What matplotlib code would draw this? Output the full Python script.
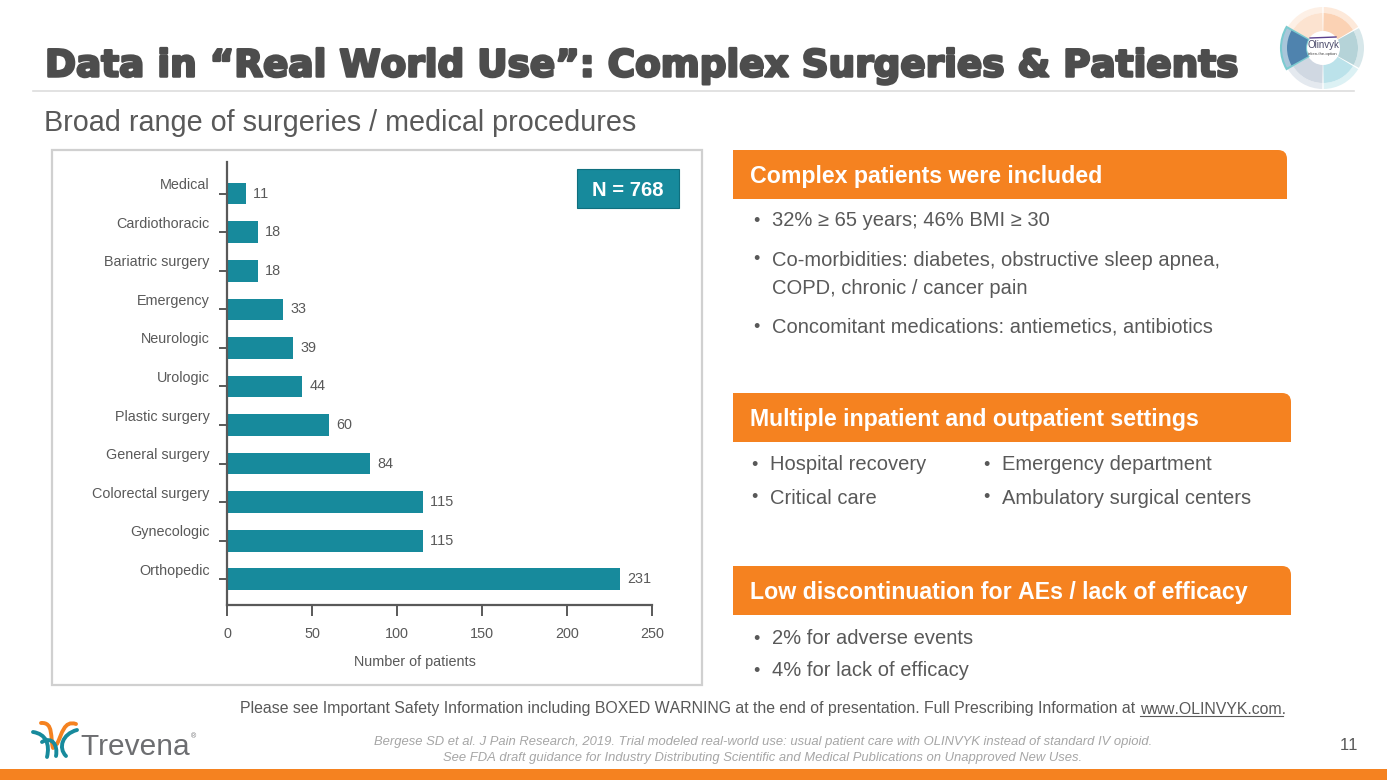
import matplotlib
matplotlib.use('Agg')
import matplotlib.pyplot as plt
import matplotlib.patheffects as pe
from matplotlib.patches import Rectangle, PathPatch, Wedge
from matplotlib.path import Path
from matplotlib.transforms import ScaledTranslation

plt.rcParams['font.family'] = ['Liberation Sans', 'DejaVu Sans']
plt.rcParams['text.kerning_factor'] = 8

# Chart data
categories = ['Orthopedic', 'Gynecologic', 'Colorectal surgery', 'General surgery',
              'Plastic surgery', 'Urologic', 'Neurologic', 'Emergency',
              'Bariatric surgery', 'Cardiothoracic', 'Medical']
patients = [231, 115, 115, 84, 60, 44, 39, 33, 18, 18, 11]
x_ticks = [0, 50, 100, 150, 200, 250]

# Slide text
title = 'Data in “Real World Use”: Complex Surgeries & Patients'
subtitle = 'Broad range of surgeries / medical procedures'
footer = 'Please see Important Safety Information including BOXED WARNING at the end of presentation. Full Prescribing Information at '
link = 'www.OLINVYK.com'
refs = ['Bergese SD et al. J Pain Research, 2019. Trial modeled real-world use: usual patient care with OLINVYK instead of standard IV opioid.',
        'See FDA draft guidance for Industry Distributing Scientific and Medical Publications on Unapproved New Uses.']

W, H = 1387, 780
ORANGE = '#F58220'
TEAL = '#178A9C'
GREY = '#595959'

fig = plt.figure(figsize=(W / 100, H / 100), dpi=100, facecolor='white')

# Background axes in pixel coordinates for the slide furniture
bg = fig.add_axes([0, 0, 1, 1], zorder=0)
bg.set_xlim(0, W)
bg.set_ylim(H, 0)
bg.axis('off')

bg.add_patch(Rectangle((0, 769), W, 11, color=ORANGE, lw=0))
bg.plot([33, 1354], [91, 91], color='#DDDDDD', lw=1.2)
bg.add_patch(Rectangle((52, 150), 650, 535, fc='white', ec='#D0D0D0', lw=1.6))

bg.text(45, 66, title, fontsize=26.9, family='DejaVu Sans', fontweight='bold', color='#4D4D4D',
        va='center', ha='left',
        path_effects=[pe.withStroke(linewidth=1.8, foreground='#4D4D4D')])
bg.text(44, 123, subtitle, fontsize=20.7, color=GREY, va='center')


def header(x0, x1, y0, y1, label):
    r = 9
    verts = [(x0, y1), (x0, y0), (x1 - r, y0), (x1, y0), (x1, y0 + r), (x1, y1), (x0, y1)]
    codes = [Path.MOVETO, Path.LINETO, Path.LINETO, Path.CURVE3, Path.CURVE3, Path.LINETO, Path.CLOSEPOLY]
    bg.add_patch(PathPatch(Path(verts, codes), fc=ORANGE, ec='none'))
    bg.text(x0 + 17, (y0 + y1) / 2 + 2, label, color='white', fontsize=16.7, fontweight='bold', va='center')


def bullet(x, y, label, indent=21):
    bg.text(x + 2.5, y + 1, '•', color=GREY, fontsize=13, va='center')
    bg.text(x + indent, y + 1, label, color=GREY, fontsize=14.5, va='center')


header(733, 1287, 150, 199, 'Complex patients were included')
bullet(751, 220, '32% ≥ 65 years; 46% BMI ≥ 30')
bullet(751, 259, 'Co-morbidities: diabetes, obstructive sleep apnea,')
bg.text(772, 289, 'COPD, chronic / cancer pain', color=GREY, fontsize=14.5, va='center')
bullet(751, 326, 'Concomitant medications: antiemetics, antibiotics')

header(733, 1291, 393, 442, 'Multiple inpatient and outpatient settings')
bullet(749, 464, 'Hospital recovery')
bullet(749, 497, 'Critical care')
bullet(981, 464, 'Emergency department')
bullet(981, 497, 'Ambulatory surgical centers')

header(733, 1291, 566, 615, 'Low discontinuation for AEs / lack of efficacy')
bullet(751, 638, '2% for adverse events')
bullet(751, 670, '4% for lack of efficacy')

# Footer
bg.text(1140, 709, footer, color=GREY, fontsize=11.4, ha='right', va='center')
bg.text(1140, 709, link + '.', color=GREY, fontsize=11.4, ha='left', va='center')
bg.plot([1140, 1283], [716, 716], color=GREY, lw=0.8)
bg.text(763, 742, refs[0], color='#A6A6A6', fontsize=9.4, style='italic', ha='center', va='center')
bg.text(763, 758, refs[1], color='#A6A6A6', fontsize=9.4, style='italic', ha='center', va='center')
bg.text(1349, 745, '11', color=GREY, fontsize=12, ha='center', va='center')

# Olinvyk wheel logo (y axis is flipped, so angles run clockwise)
wheel = [(-90, -30, '#FBD2B4', '#FDE9DA'), (-30, 30, '#B5D3D8', '#D7E7EA'), (30, 90, '#BBE2EA', '#DCF1F4'),
         (90, 150, '#D0D8E2', '#E4E9EF'), (210, 270, '#FCE3D0', '#FDF0E6')]
for a0, a1, inner, outer in wheel:
    bg.add_patch(Wedge((1323, 48), 41, a0 + 1, a1 - 1, width=6, fc=outer, ec='none'))
    bg.add_patch(Wedge((1323, 48), 35, a0 + 1, a1 - 1, width=18, fc=inner, ec='none'))
bg.add_patch(Wedge((1323, 48), 42, 150, 210, width=25, fc='#A9C6DA', ec='#7CCBD0', lw=1.5))
bg.add_patch(Wedge((1323, 48), 36, 151, 209, width=19, fc='#4F83AE', ec='none'))
bg.text(1323, 45, 'Olinvyk', fontsize=7, color='#4A4A6A', ha='center', va='center')
bg.text(1323, 54, 'taken-the-option', fontsize=3, color='#444444', ha='center', va='center')
bg.plot([1310, 1336], [38, 37], color='#5B3F8C', lw=1)

# Trevena logo
bg.text(80, 747, 'Trevena', fontsize=21.5, color='#6D6E71', va='center', ha='left')
bg.text(191, 737, '®', fontsize=5, color='#6D6E71', va='center')
for verts, col in [
    ([(41, 723), (54, 722), (50, 738), (53, 748)], ORANGE),
    ([(76, 724), (64, 720), (62, 734), (57, 744)], ORANGE),
    ([(33, 732), (46, 734), (50, 744), (47, 757)], TEAL),
    ([(77, 730), (62, 734), (58, 748), (66, 756)], TEAL),
    ([(42, 742), (52, 736), (58, 745), (56, 756)], TEAL),
]:
    codes = [Path.MOVETO, Path.CURVE4, Path.CURVE4, Path.CURVE4]
    bg.add_patch(PathPatch(Path(verts, codes), fc='none', ec=col, lw=2.8, capstyle='round'))

# Bar chart
ax = fig.add_axes([227 / W, 1 - 605 / H, 425 / W, 443 / H], zorder=2)
ax.patch.set_alpha(0)
pos = list(range(len(categories)))
ax.barh(pos, patients, height=0.56, color=TEAL)
ax.set_xlim(0, 250)
ax.set_ylim(-0.667, 10.82)
ax.spines['top'].set_visible(False)
ax.spines['right'].set_visible(False)
for side in ['left', 'bottom']:
    ax.spines[side].set_color(GREY)
    ax.spines[side].set_linewidth(1.6)
ax.set_xticks(x_ticks)
ax.tick_params(axis='x', length=8, width=1.4, color=GREY, labelcolor=GREY, labelsize=10.4, pad=8)
ax.set_yticks(pos)
ax.set_yticklabels(categories, va='bottom')
ax.tick_params(axis='y', length=6, width=1.4, color=GREY, labelcolor=GREY, labelsize=10.4, pad=6.4)
for lab in ax.get_yticklabels():
    lab.set_transform(lab.get_transform() + ScaledTranslation(0, 1.5 / 100, fig.dpi_scale_trans))
ax.set_xlabel('Number of patients', fontsize=10.4, color=GREY)
ax.xaxis.set_label_coords((415 - 227) / 425, -0.112)
for p, v in zip(pos, patients):
    ax.annotate(str(v), (v, p), xytext=(5.5, 0), textcoords='offset points', va='center',
                fontsize=10.4, color=GREY)

bg2 = fig.add_axes([0, 0, 1, 1], zorder=3)
bg2.set_xlim(0, W)
bg2.set_ylim(H, 0)
bg2.axis('off')
bg2.add_patch(Rectangle((577, 169), 102, 39, fc=TEAL, ec='#0F6F7E', lw=0.8))
bg2.text(628, 191, 'N = 768', color='white', fontsize=14.6, fontweight='bold', ha='center', va='center')

fig.savefig('out.png', dpi=100)
